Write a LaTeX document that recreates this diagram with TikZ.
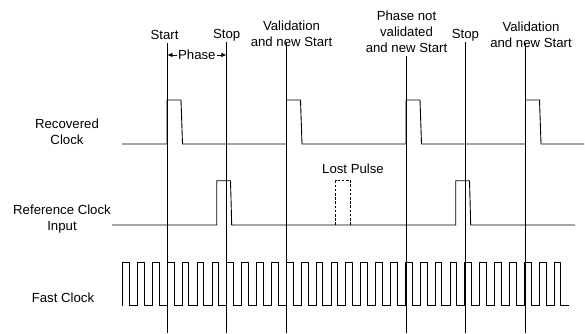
\documentclass[tikz,border=0pt]{standalone}
\usepackage{fontspec}
\setmainfont{Liberation Sans}
\usetikzlibrary{arrows.meta}
\begin{document}
\begin{tikzpicture}[x=1pt,y=-1pt,
  lbl/.style={anchor=north,inner sep=0pt,align=center,font=\fontsize{13.2}{16}\selectfont},
  sig/.style={line width=0.9pt,line join=miter},
  marker/.style={line width=0.9pt},
  lost/.style={line width=1pt,dash pattern=on 2.6pt off 1.6pt}]
\useasboundingbox (0,0) rectangle (585,333);

% labels
\node[lbl] (lstart) at (164.5,30.2) {Start};
\node[lbl] (lstop1) at (226.7,29.2) {Stop};
\node[lbl] (lval1) at (291.5,20.5) {Validation\\and new Start};
\node[lbl] (lpnv) at (406.5,11.2) {Phase not\\validated\\and new Start};
\node[lbl] (lstop2) at (465.5,28.8) {Stop};
\node[lbl] (lval2) at (531,21.5) {Validation\\and new Start};
\node[lbl] (lrec) at (67,119.2) {Recovered\\Clock};
\node[lbl] (lref) at (62,205.2) {Reference Clock\\Input};
\node[lbl] (lfast) at (63,292.9) {Fast Clock};
\node[lbl] (llost) at (353,163.5) {Lost Pulse};

% marker lines
\coordinate (t1) at (167,43);   \coordinate (b1) at (167,333);
\coordinate (t2) at (226.7,42); \coordinate (b2) at (226.7,333);
\coordinate (t3) at (286.5,43); \coordinate (b3) at (286.5,333);
\coordinate (t4) at (406,56);   \coordinate (b4) at (406,333);
\coordinate (t5) at (465.7,42); \coordinate (b5) at (465.7,333);
\coordinate (t6) at (525.5,43); \coordinate (b6) at (525.5,333);
\foreach \i in {1,...,6}{\draw[marker] (t\i) -- (b\i);}

% phase arrow
\coordinate (pa) at (167.4,55);
\coordinate (pb) at (226.3,55);
\draw[<->,>={Latex[length=5pt,width=4.6pt]},line width=0.7pt] (pa) -- (pb)
  node[midway,fill=white,inner sep=1.2pt,font=\fontsize{13.2}{16}\selectfont] (phase) {Phase};

% recovered clock
\draw[sig] (122,144) -- (167,144) -- (167,100) -- (181,100) -- (182.5,144)
  -- (286.5,144) -- (286.5,100) -- (300.5,100) -- (302,144)
  -- (406,144) -- (406,100) -- (420,100) -- (421.5,144)
  -- (525.5,144) -- (525.5,100) -- (539.5,100) -- (541,144) -- (584,144);

% reference clock input
\draw[sig] (112,225) -- (216.7,225) -- (216.7,180.7) -- (230.5,180.7) -- (231.7,225)
  -- (455.7,225) -- (455.7,180.7) -- (469.5,180.7) -- (470.7,225) -- (575,225);
\draw[lost] (335.7,225) -- (335.7,180.7) -- (350.7,180.7) -- (350.7,225);

% fast clock
\draw[sig] (122.7,305.5) \foreach \k in {1,...,30}{ -- ++(0,-43.5) -- ++(6.7,0) -- ++(0,43.5) -- ++(8.18,0)};

\end{tikzpicture}
\end{document}
